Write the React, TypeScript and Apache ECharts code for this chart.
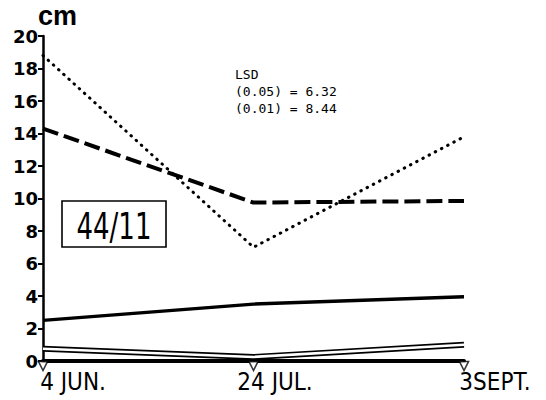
import React, { useEffect, useRef } from "react";
import * as echarts from "echarts";

const categories = ["4 JUN.", "24 JUL.", "3SEPT."];
const dottedSeries = [18.8, 7.0, 13.8];
const dashedSeries = [14.3, 9.75, 9.85];
const solidSeries = [2.5, 3.5, 3.95];
const hollowSeries = [0.75, 0.25, 1.0];
const markerSeries = [0, 0, 0];
const yTicks = { min: 0, max: 20, interval: 2 };
const lsdLines = ["LSD", "(0.05) = 6.32", "(0.01) = 8.44"];
const boxLabel = "44/11";
const unitLabel = "cm";

const NARROW = "'DejaVu Sans Condensed', 'Liberation Sans Narrow', 'Roboto Condensed', 'Liberation Sans', sans-serif";
// left paddings used to nudge each centred category label
const labelPads = [60, 43, 62];

export default function App() {
  const ref = useRef<HTMLDivElement>(null);
  useEffect(() => {
    if (!ref.current) return;
    const chart = echarts.init(ref.current, null, { renderer: "svg" });
    chart.setOption({
      animation: false,
      backgroundColor: "#fff",
      grid: { left: 43, right: 82, top: 36, bottom: 39, containLabel: false },
      xAxis: {
        type: "category",
        data: categories.map((c, i) => ({
          value: c,
          textStyle: { align: "center", padding: [0, 0, 0, labelPads[i]] },
        })),
        boundaryGap: false,
        axisLine: { show: true, lineStyle: { color: "#000", width: 4 } },
        axisTick: { show: false },
        axisLabel: {
          color: "#000",
          fontFamily: NARROW,
          fontSize: 24,
          margin: 9,
        },
        splitLine: { show: false },
      },
      yAxis: {
        type: "value",
        min: yTicks.min,
        max: yTicks.max,
        interval: yTicks.interval,
        axisLine: { show: true, lineStyle: { color: "#000", width: 2.5 } },
        axisTick: { show: true, inside: false, length: 5, lineStyle: { color: "#000", width: 2 } },
        axisLabel: {
          color: "#000",
          fontFamily: "DejaVu Sans",
          fontWeight: "bold",
          fontSize: 18,
          margin: 5,
        },
        splitLine: { show: false },
      },
      graphic: [
        {
          type: "text",
          left: 38,
          top: 2,
          style: {
            text: unitLabel,
            font: "bold 27px 'Liberation Sans'",
            fill: "#000",
          },
        },
        {
          type: "text",
          left: 235,
          top: 66,
          style: {
            text: lsdLines.join("\n"),
            font: "13px 'DejaVu Sans Mono'",
            lineHeight: 17,
            fill: "#000",
          },
        },
        {
          type: "rect",
          shape: { x: 62, y: 201, width: 104, height: 46 },
          style: { fill: "#fff", stroke: "#000", lineWidth: 1.6 },
          z: 10,
        },
        {
          type: "text",
          x: 114,
          y: 226,
          scaleX: 0.78,
          style: {
            text: boxLabel,
            font: "37px " + NARROW,
            fill: "#000",
            align: "center",
            verticalAlign: "middle",
          },
          z: 11,
        },
      ],
      series: [
        {
          type: "line",
          data: dottedSeries,
          symbol: "none",
          lineStyle: { color: "#000", width: 3, type: [0.5, 6.5], cap: "round" },
        },
        {
          type: "line",
          data: dashedSeries,
          symbol: "none",
          lineStyle: { color: "#000", width: 4, type: [16, 6] },
        },
        {
          type: "line",
          data: solidSeries,
          symbol: "none",
          lineStyle: { color: "#000", width: 3.5 },
        },
        {
          type: "line",
          data: hollowSeries,
          symbol: "none",
          lineStyle: { color: "#000", width: 6 },
        },
        {
          type: "line",
          data: hollowSeries,
          symbol: "none",
          lineStyle: { color: "#fff", width: 2.6 },
        },
        {
          type: "scatter",
          data: markerSeries,
          symbol: "triangle",
          symbolRotate: 180,
          symbolSize: 9,
          symbolOffset: [0, 5],
          clip: false,
          itemStyle: { color: "#fff", borderColor: "#000", borderWidth: 1.6 },
          z: 20,
        },
      ],
    });
    return () => chart.dispose();
  }, []);
  return (
    <div
      ref={ref}
      style={{ position: "absolute", left: 0, top: 0, width: 546, height: 400 }}
    />
  );
}
